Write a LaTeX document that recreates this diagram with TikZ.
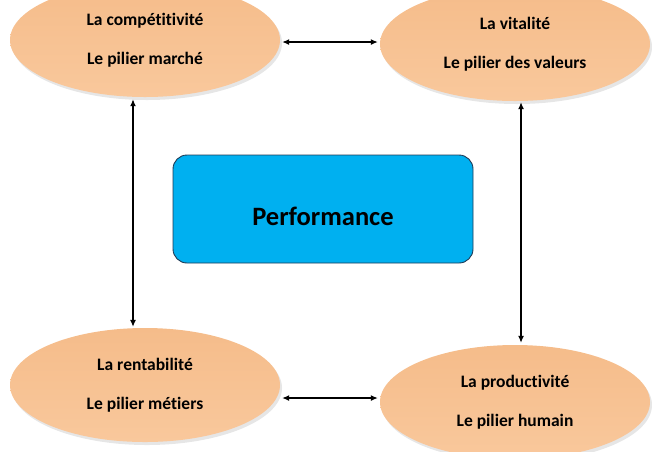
\documentclass[tikz,border=0pt]{standalone}
\usepackage{fontspec}
\setmainfont[Ligatures={CommonOff,ContextualOff,RareOff}]{Carlito}
\usetikzlibrary{shapes.geometric,shadows,calc,arrows.meta}
\definecolor{peachtop}{HTML}{F5BC8A}
\definecolor{peachbot}{HTML}{F9C89C}
\definecolor{perfblue}{HTML}{00B0F0}
\definecolor{perfedge}{HTML}{1F3A55}
\tikzset{
  pillar/.style={ellipse, minimum width=270pt, minimum height=114pt, inner sep=0pt,
    top color=peachtop, bottom color=peachbot, draw=none, align=center,
    font=\fontsize{17.5}{20}\selectfont\bfseries,
    drop shadow={shadow xshift=2pt, shadow yshift=-3pt, opacity=0.2}},
  perfbox/.style={rectangle, rounded corners=14pt, minimum width=300pt, minimum height=108pt,
    fill=perfblue, draw=perfedge, line width=0.9pt,
    font=\fontsize{26.5}{30}\selectfont\bfseries},
  link/.style={{Latex[length=7pt,width=6pt]}-{Latex[length=7pt,width=6pt]}, line width=1.2pt, black}
}
\begin{document}
\begin{tikzpicture}[x=1pt,y=-1pt]
\useasboundingbox (0,0) rectangle (652,451);
\node[pillar] (tl) at (145,40) {La compétitivité\\[19pt]Le pilier marché};
\node[pillar] (tr) at (515,44) {La vitalité\\[19pt]Le pilier des valeurs};
\node[pillar] (bl) at (145,385) {La rentabilité\\[19pt]Le pilier métiers};
\node[pillar] (br) at (515,402) {La productivité\\[19pt]Le pilier humain};
\node[perfbox] (perf) at (323,209) {\smash{\raisebox{-16pt}{Performance}}};
\coordinate (a1) at ($(tl.east)+(2,2)$);
\coordinate (a2) at ($(tr.west)+(-2,-2)$);
\draw[link] (a1) -- (a2);
\coordinate (b1) at ($(bl.east)+(2,13)$);
\coordinate (b2) at ($(br.west)+(-2,-4)$);
\draw[link] (b1) -- (b2);
\coordinate (c1) at ($(tl.south)+(-12,2)$);
\coordinate (c2) at ($(bl.north)+(-12,-1)$);
\draw[link] (c1) -- (c2);
\coordinate (d1) at ($(tr.south)+(6,1)$);
\coordinate (d2) at ($(br.north)+(6,-2)$);
\draw[link] (d1) -- (d2);
\end{tikzpicture}
\end{document}
